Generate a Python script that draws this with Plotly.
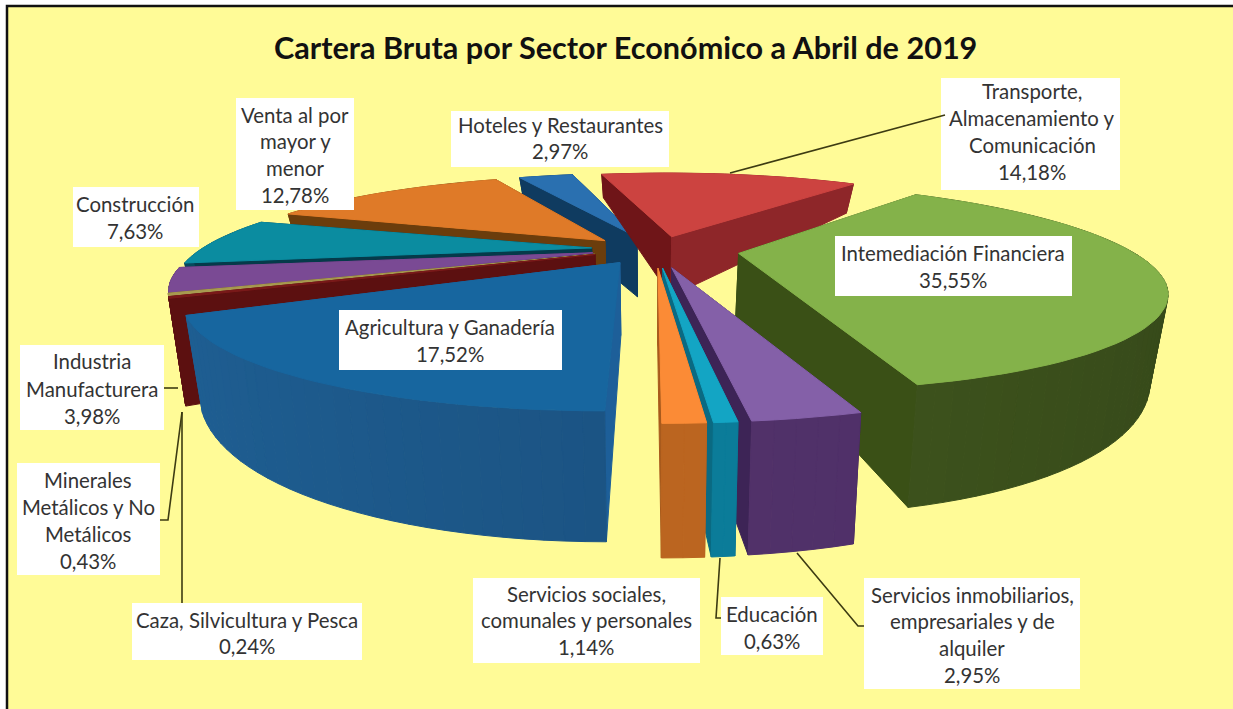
import math
import plotly.graph_objects as go

# --- data ---
sectors = ["Transporte, Almacenamiento y Comunicación", "Intemediación Financiera",
           "Servicios inmobiliarios, empresariales y de alquiler", "Educación",
           "Servicios sociales, comunales y personales", "Agricultura y Ganadería",
           "Caza, Silvicultura y Pesca", "Minerales Metálicos y No Metálicos",
           "Industria Manufacturera", "Construcción", "Venta al por mayor y menor",
           "Hoteles y Restaurantes"]
shares = [14.18, 35.55, 2.95, 0.63, 1.14, 17.52, 0.24, 0.43, 3.98, 7.63, 12.78, 2.97]
title_text = "Cartera Bruta por Sector Económico a Abril de 2019"

# --- styling ---
pull = [.12, .19, .165, .165, .165, .14, .125, .125, .125, .125, .115, .12]
shift_u = [.022, 0, .01, .01, .01, .012, 0, 0, 0, 0, -.015, .01]
turn = [0, 0, -3, -3, -3, -3, 0, 0, -1.5, -2, 0, -.5]
wall_scale = [1, 1, 1, 1, 1, 1, 1.2, 1, 1, 1, 1, 1]
tops = ["#cc4340", "#84b24a", "#8460a8", "#13a5c4", "#fb8b36", "#17669f", "#7a1a1a", "#a89a50",
        "#7a4a94", "#0b8ca0", "#df7a28", "#2a70b0"]
wall_a = ["#8e2629", "#4a6420", "#54336e", "#0b7f9c", "#bd6620", "#1f6196", "#5c1010", "#6a5c20",
          "#4a2a60", "#064a5c", "#7a4a10", "#0f3b60"]
wall_b = ["#8e2629", "#36491a", "#4e2f66", "#0b7a96", "#b96420", "#17456f", "#5c1010", "#6a5c20",
          "#4a2a60", "#064a5c", "#7a4a10", "#0f3b60"]
cut_a = ["#6f1518", "#3a5016", "#3d2456", "#0a6a82", "#a85a1c", "#1d5f99", "#5c1010", "#6a5c20",
         "#4a2a60", "#053a4a", "#6b3d0c", "#0f3b60"]
cut_b = ["#8e2629", "#3a5016", "#3d2456", "#0a6a82", "#a85a1c", "#1d5f99", "#5c1010", "#6a5c20",
         "#4a2a60", "#053a4a", "#6b3d0c", "#0f3b60"]
start_angle = -13.0
Rad = 0.83
cx, cy, A, K, p, c = 650, 249, 470, 109, 0.38, 0.035
wall0, wall1, wall2 = 66, -57, 12
draw_order = [11, 10, 9, 8, 7, 6, 0, 1, 5, 2, 3, 4]

BG = "#FFFB97"

labels = [
    (1032, (941, 78, 1120, 190), ["Transporte,", "Almacenamiento y", "Comunicación", "14,18%"], [91, 118, 145, 172]),
    (295, (236, 98, 354, 210), ["Venta al por", "mayor y", "menor", "12,78%"], [115, 141, 168, 195]),
    (560, (451, 111, 669, 167), ["Hoteles y Restaurantes", "2,97%"], [125, 151]),
    (135, (73, 187, 199, 247), ["Construcción", "7,63%"], [204, 231]),
    (450, (339, 310, 562, 370), ["Agricultura y Ganadería", "17,52%"], [327, 354]),
    (953, (835, 236, 1072, 296), ["Intemediación Financiera", "35,55%"], [253, 280]),
    (92, (20, 345, 164, 430), ["Industria", "Manufacturera", "3,98%"], [361, 389, 416]),
    (88, (17, 463, 160, 575), ["Minerales", "Metálicos y No", "Metálicos", "0,43%"], [480, 507, 534, 561]),
    (247, (132, 603, 362, 660), ["Caza, Silvicultura y Pesca", "0,24%"], [620, 646]),
    (586, (473, 578, 700, 663), ["Servicios sociales,", "comunales y personales", "1,14%"], [594, 620, 647]),
    (772, (721, 597, 823, 655), ["Educación", "0,63%"], [614, 641]),
    (972, (864, 578, 1080, 689), ["Servicios inmobiliarios,", "empresariales y de", "alquiler", "2,95%"], [595, 621, 648, 675]),
]
leaders = [
    [(730, 173), (945, 115)],
    [(164, 388), (178, 388)],
    [(160, 520), (168, 520), (182, 412)],
    [(182, 603), (182, 412)],
    [(720, 558), (716, 618), (721, 618)],
    [(797, 553), (858, 626), (864, 626)],
]


def P(u, v, bottom=False, scale=1.0):
    w = 1 + p * v
    sx = cx + A * u / w
    sy = cy - K * v / w
    if bottom:
        sy += (wall0 + wall1 * v + wall2 * v * v) * scale
        sx = cx + (sx - cx) * (1 - c)
    return sx, sy


def mix(a, b, t):
    ca = [int(a[i:i + 2], 16) for i in (1, 3, 5)]
    cb = [int(b[i:i + 2], 16) for i in (1, 3, 5)]
    return "#%02x%02x%02x" % tuple(round(x + (y - x) * t) for x, y in zip(ca, cb))


def poly(fig, pts, color):
    fig.add_trace(go.Scatter(x=[q[0] for q in pts] + [pts[0][0]], y=[q[1] for q in pts] + [pts[0][1]],
                             mode="lines", fill="toself", fillcolor=color,
                             line=dict(color=color, width=1), hoverinfo="skip", showlegend=False))


fig = go.Figure()

total = sum(shares)
bounds = [start_angle]
for s in shares:
    bounds.append(bounds[-1] + s / total * 360)

for i in draw_order:
    a0, a1 = bounds[i] + turn[i], bounds[i + 1] + turn[i]
    mid = math.radians((a0 + a1) / 2)
    ox, oy = pull[i] * math.sin(mid) + shift_u[i], pull[i] * math.cos(mid)
    n = max(2, int((a1 - a0) / 2))
    ang = [math.radians(a0 + (a1 - a0) * k / n) for k in range(n + 1)]
    rim = [(ox + Rad * math.sin(t), oy + Rad * math.cos(t)) for t in ang]
    apex = (ox, oy)
    ws = wall_scale[i]
    faces = []
    for r, col in ((rim[0], cut_a[i]), (rim[-1], cut_b[i])):
        faces.append(((apex[1] + r[1]) / 2,
                      [P(*apex), P(*r), P(*r, True, ws), P(*apex, True, ws)], col))
    for k in range(n):
        r0, r1 = rim[k], rim[k + 1]
        # the wall is lit from the left of the picture
        t = min(1, max(0, (r0[0] + r1[0]) / 2 * 0.5 + 0.5))
        faces.append(((r0[1] + r1[1]) / 2,
                      [P(*r0), P(*r1), P(*r1, True, ws), P(*r0, True, ws)],
                      mix(wall_a[i], wall_b[i], t))
                     )
    for _, pts, col in sorted(faces, key=lambda f: -f[0]):
        poly(fig, pts, col)
    poly(fig, [P(*apex)] + [P(*r) for r in rim], tops[i])

shapes = [dict(type="rect", xref="x", yref="y", x0=7, y0=6, x1=1260, y1=740,
               fillcolor=BG, line=dict(color="#111111", width=2.5), layer="below")]
for xb0, yb0, xb1, yb1 in [l[1] for l in labels]:
    shapes.append(dict(type="rect", xref="x", yref="y", x0=xb0, y0=yb0, x1=xb1, y1=yb1,
                       fillcolor="white", line=dict(width=0), layer="above"))
for pts in leaders:
    path = "M " + " L ".join(f"{a} {b}" for a, b in pts)
    shapes.append(dict(type="path", xref="x", yref="y", path=path,
                       line=dict(color="#3d3b12", width=1.6), layer="above"))

annotations = [dict(x=625, y=47, xref="x", yref="y", text=f"<b>{title_text}</b>", showarrow=False,
                    font=dict(family="Lato", size=30.6, color="#111111"))]
for xc, _, lines, ys in labels:
    for t, y in zip(lines, ys):
        annotations.append(dict(x=xc, y=y, xref="x", yref="y", text=t, showarrow=False,
                                font=dict(family="Lato", size=20.4, color="#333333")))

fig.update_layout(
    width=1233, height=709, margin=dict(l=0, r=0, t=0, b=0),
    paper_bgcolor="white", plot_bgcolor="white", showlegend=False,
    xaxis=dict(range=[0, 1233], visible=False, fixedrange=True),
    yaxis=dict(range=[709, 0], visible=False, fixedrange=True),
    shapes=shapes, annotations=annotations,
)
fig.write_html("out.html", post_script="document.body.style.margin='0';document.body.style.overflow='hidden';",
               config={"displayModeBar": False})
